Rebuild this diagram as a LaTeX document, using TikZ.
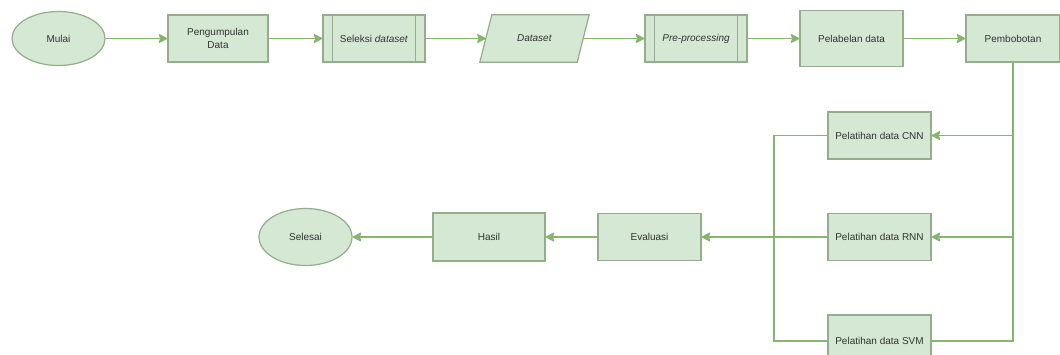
\documentclass[tikz,border=0pt]{standalone}
\usepackage{fontspec}
\setmainfont{Liberation Sans}
\usetikzlibrary{shapes.geometric,arrows.meta,calc}
\definecolor{boxfill}{HTML}{D5E8D4}
\definecolor{boxline}{HTML}{93AE88}
\definecolor{conn}{HTML}{86B56F}
\definecolor{txt}{HTML}{333333}
\tikzset{
  base/.style={fill=boxfill, draw=boxline, line width=1.2pt, text=txt, font=\fontsize{10}{12.5}\selectfont, align=center, inner sep=1pt},
  boxnode/.style={base, rectangle},
  ovalnode/.style={base, ellipse},
  procnode/.style={base, rectangle},
  plain/.style={text=txt, font=\fontsize{10}{12.5}\selectfont, align=center, inner sep=1pt},
  conline/.style={draw=conn, line width=1.3pt},
  arr/.style={conline, -{Stealth[length=10pt,width=10pt,inset=2pt,round]}},
}
\begin{document}
\begin{tikzpicture}[x=1pt,y=-1pt]
\useasboundingbox (0,0) rectangle (1060,354);
\clip (0,0) rectangle (1060,354);
\fill[white] (0,0) rectangle (1060,354);

% top row
\node[ovalnode, minimum width=93pt, minimum height=54pt] (mulai) at (58.5,38.5) {Mulai};
\node[boxnode, minimum width=100pt, minimum height=47pt] (peng) at (218,38.5) {Pengumpulan\\Data};
\node[procnode, minimum width=102pt, minimum height=47pt] (sel) at (374,38.5) {Seleksi \textit{dataset}};
\draw[boxline, line width=1.2pt] ([xshift=10pt]sel.north west) -- ([xshift=10pt]sel.south west)
  ([xshift=-10pt]sel.north east) -- ([xshift=-10pt]sel.south east);
\node[plain, minimum width=97pt, minimum height=47pt] (ds) at (534.5,38.5) {};
\filldraw[fill=boxfill, draw=boxline, line width=1.2pt]
  ($(ds.south west)+(-6,0)$) -- ($(ds.north west)+(6,0)$) -- ($(ds.north east)+(6,0)$) -- ($(ds.south east)+(-6,0)$) -- cycle;
\node[plain] at (ds.center) {\textit{Dataset}};
\node[procnode, minimum width=102pt, minimum height=47pt] (pre) at (696,38.5) {\textit{Pre-processing}};
\draw[boxline, line width=1.2pt] ([xshift=10pt]pre.north west) -- ([xshift=10pt]pre.south west)
  ([xshift=-10pt]pre.north east) -- ([xshift=-10pt]pre.south east);
\node[boxnode, minimum width=103pt, minimum height=56pt] (pel) at (851.5,38.5) {Pelabelan data};
\node[boxnode, minimum width=94pt, minimum height=47pt] (pem) at (1013,38.5) {Pembobotan};

% training boxes
\node[boxnode, minimum width=103pt, minimum height=47pt] (cnn) at (879.5,135.5) {Pelatihan data CNN};
\node[boxnode, minimum width=103pt, minimum height=47pt] (rnn) at (879.5,237) {Pelatihan data RNN};
\node[boxnode, minimum width=103pt, minimum height=52pt] (svm) at (879.5,341) {Pelatihan data SVM};

% bottom row
\node[boxnode, minimum width=103pt, minimum height=47pt] (eval) at (649.5,237) {Evaluasi};
\node[boxnode, minimum width=112pt, minimum height=48pt] (hasil) at (489,237) {Hasil};
\node[ovalnode, minimum width=93pt, minimum height=57pt] (selesai) at (305.5,237) {Selesai};

\coordinate (j) at (774,237);

% connectors
\draw[arr] (mulai) -- (peng);
\draw[arr] (peng) -- (sel);
\draw[arr] (sel) -- (ds.west);
\draw[arr] (ds.east) -- (pre);
\draw[arr] (pre) -- (pel);
\draw[arr] (pel) -- (pem);
\draw[arr] (pem.south) |- (cnn.east);
\draw[arr] (pem.south) |- (rnn.east);
\draw[conline] (pem.south) |- (svm.east);
\draw[conline] (cnn.west) -| (j);
\draw[conline] (svm.west) -| (j);
\draw[conline] (rnn.west) -- (j);
\draw[arr] (j) -- (eval.east);
\draw[arr] (eval) -- (hasil);
\draw[arr] (hasil) -- (selesai);
\end{tikzpicture}
\end{document}
